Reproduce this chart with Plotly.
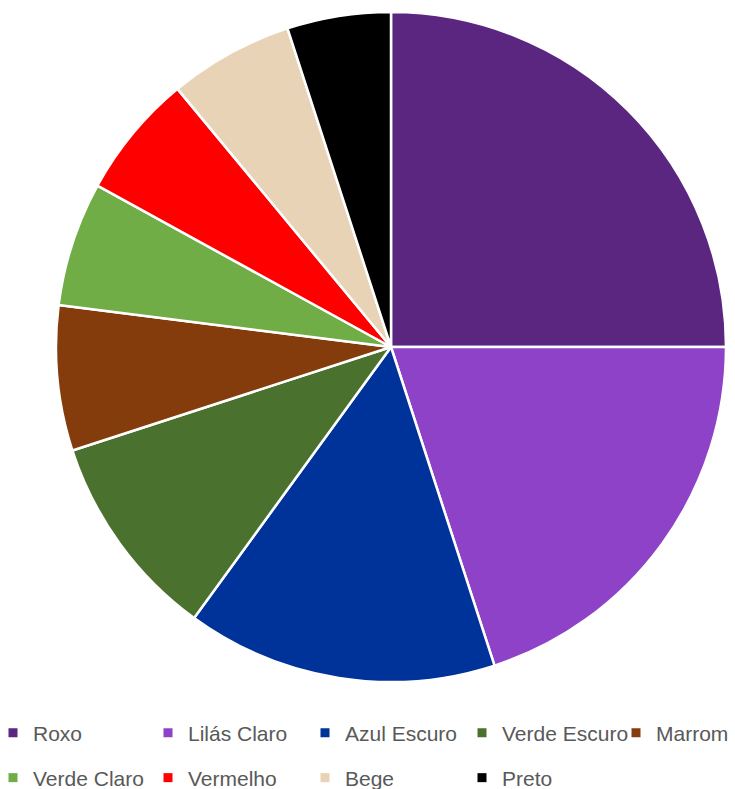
import plotly.graph_objects as go

categories = ["Roxo", "Lilás Claro", "Azul Escuro", "Verde Escuro", "Marrom",
              "Verde Claro", "Vermelho", "Bege", "Preto"]
values = [25, 20, 15, 10, 7, 6, 6, 6, 5]
colors = ["#5A2680", "#8E42C8", "#003399", "#4B712F", "#843C0C",
          "#70AD47", "#FF0000", "#E8D3B7", "#000000"]

W, H = 735, 789
cx, cy, r = 391, 347, 335

# legend grid: left edge (px) of each column's label, centre (px) of each row
col_text_x = [33, 188, 345, 502, 656]
row_y = [733, 778]
n_cols = 5
text_offset = 40  # distance from a legend box's left edge to its label

fig = go.Figure()
fig.add_trace(go.Pie(
    labels=categories, values=values, sort=False, direction="clockwise",
    rotation=0, textinfo="none", hoverinfo="label+percent",
    marker=dict(colors=colors, line=dict(color="white", width=2.5)),
    domain=dict(x=[(cx - r) / W, (cx + r) / W],
                y=[1 - (cy + r) / H, 1 - (cy - r) / H]),
    showlegend=False,
))

legends = {}
for i, (name, col) in enumerate(zip(categories, colors)):
    key = "legend" if i == 0 else f"legend{i + 1}"
    fig.add_trace(go.Scatter(
        x=[None], y=[None], mode="markers", name=name,
        marker=dict(symbol="square", size=9, color=col),
        legend=key,
    ))
    tx = col_text_x[i % n_cols]
    ty = row_y[i // n_cols]
    legends[key] = dict(
        orientation="h", xanchor="left", yanchor="middle",
        x=(tx - text_offset) / W, y=1 - ty / H,
        font=dict(family="Liberation Sans", size=21, color="#595959"),
        bgcolor="rgba(0,0,0,0)", itemclick=False,
    )

fig.update_layout(
    width=W, height=H,
    margin=dict(l=0, r=0, t=0, b=0, autoexpand=False),
    paper_bgcolor="white", plot_bgcolor="white",
    xaxis=dict(visible=False), yaxis=dict(visible=False),
    **legends,
)
fig.write_html("out.html")
